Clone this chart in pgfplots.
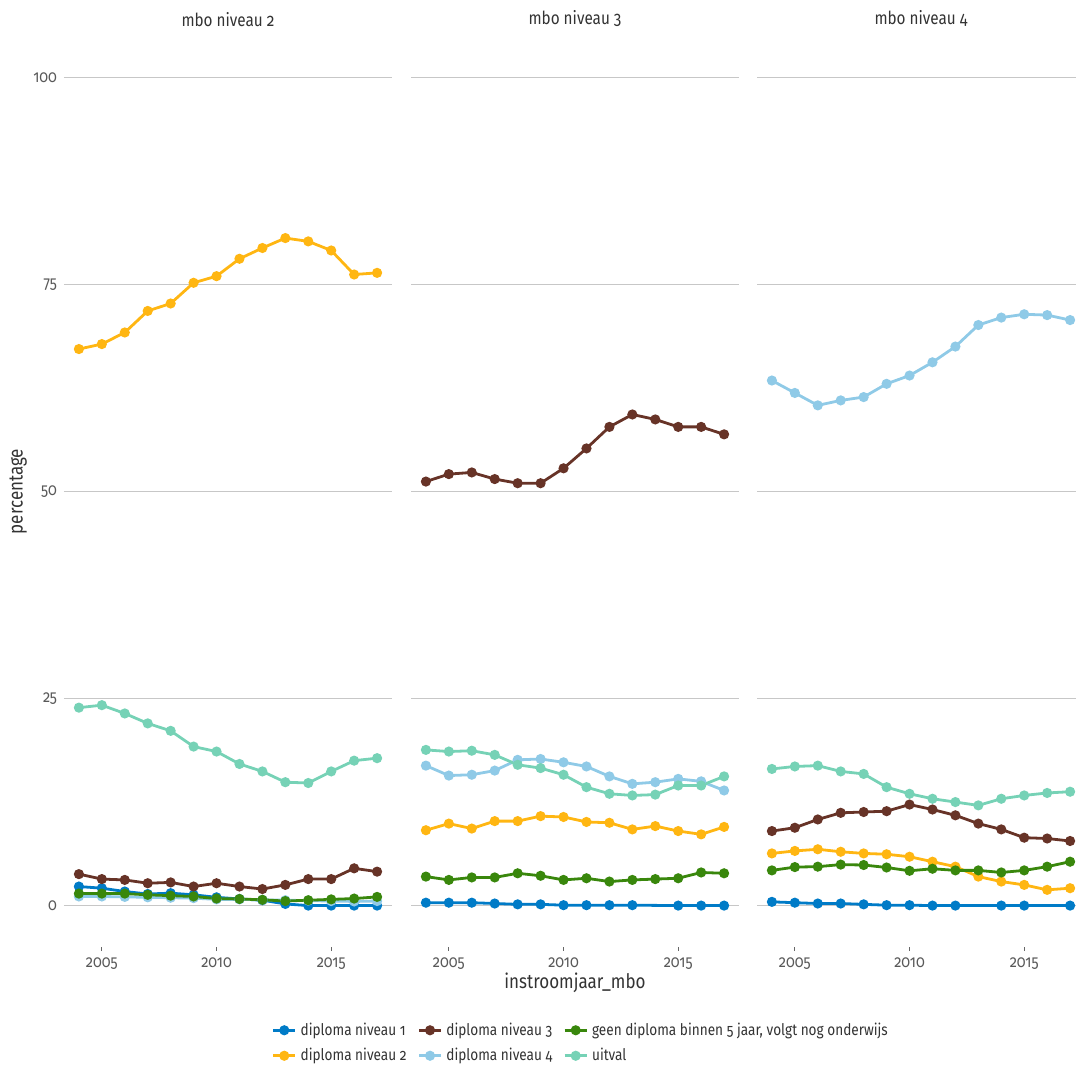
\documentclass[border=0pt]{standalone}
\usepackage{pgfplots}
\pgfplotsset{compat=1.18}
\usepackage{pgfplotstable}
\usepackage{fontspec}
\setmainfont{Fira Sans}[Numbers=OldStyle, FakeStretch=0.85]

\definecolor{cn1}{HTML}{007BC7}
\definecolor{cn2}{HTML}{FFB612}
\definecolor{cn3}{HTML}{673327}
\definecolor{cn4}{HTML}{8FCAE7}
\definecolor{cgeen}{HTML}{39870C}
\definecolor{cuit}{HTML}{76D2B6}

% year n1 n2 n3 n4 geen uitval
\pgfplotstableread{
year n1 n2 n3 n4 geen uitval
2004 2.3 67.2 3.8 1.1 1.45 23.9
2005 2.1 67.8 3.2 1.1 1.45 24.2
2006 1.7 69.2 3.1 1.05 1.45 23.2
2007 1.4 71.8 2.7 1.0 1.3 22.0
2008 1.5 72.7 2.8 0.95 1.2 21.1
2009 1.3 75.2 2.3 0.9 1.1 19.2
2010 1.0 76.0 2.7 0.75 0.85 18.6
2011 0.8 78.1 2.3 0.75 0.8 17.1
2012 0.65 79.4 2.0 0.7 0.7 16.2
2013 0.2 80.6 2.5 0.65 0.55 14.9
2014 0.0 80.2 3.2 0.6 0.65 14.8
2015 0.0 79.1 3.2 0.55 0.75 16.2
2016 0.0 76.2 4.5 0.5 0.85 17.5
2017 0.0 76.4 4.1 0.55 1.05 17.8
}\tniv

\pgfplotstableread{
year n1 n2 n3 n4 geen uitval
2004 0.35 9.1 51.2 16.9 3.5 18.8
2005 0.35 9.9 52.1 15.7 3.1 18.6
2006 0.35 9.3 52.3 15.8 3.4 18.7
2007 0.25 10.2 51.5 16.3 3.4 18.2
2008 0.15 10.2 51.0 17.6 3.9 17.0
2009 0.15 10.8 51.0 17.7 3.6 16.6
2010 0.05 10.7 52.8 17.3 3.1 15.8
2011 0.05 10.1 55.2 16.8 3.3 14.3
2012 0.05 10.0 57.8 15.6 2.9 13.5
2013 0.05 9.2 59.3 14.7 3.1 13.3
2014 nan 9.6 58.7 14.9 3.2 13.4
2015 0.0 9.0 57.8 15.3 3.3 14.5
2016 0.0 8.6 57.8 15.0 4.0 14.5
2017 0.0 9.5 56.9 13.9 3.9 15.6
}\tnivdrie

\pgfplotstableread{
year n1 n2 n3 n4 geen uitval
2004 0.45 6.3 9.0 63.4 4.25 16.5
2005 0.35 6.6 9.4 61.9 4.65 16.8
2006 0.25 6.8 10.4 60.4 4.7 16.9
2007 0.25 6.5 11.2 61.0 4.95 16.2
2008 0.15 6.3 11.3 61.4 4.9 15.9
2009 0.05 6.2 11.4 63.0 4.6 14.3
2010 0.05 5.9 12.2 64.0 4.2 13.5
2011 0.0 5.3 11.6 65.6 4.45 12.9
2012 0.0 4.7 10.9 67.5 4.25 12.5
2013 nan 3.5 9.9 70.1 4.25 12.1
2014 0.0 2.9 9.2 71.0 4.0 12.9
2015 0.0 2.5 8.2 71.4 4.25 13.3
2016 nan 1.9 8.1 71.3 4.7 13.6
2017 0.0 2.1 7.8 70.7 5.3 13.75
}\tnivvier

\pgfplotsset{
  facet/.style={
    scale only axis, width=164pt, height=455.5pt,
    xmin=2003.35, xmax=2017.65, ymin=-5, ymax=105,
    axis line style={draw=none},
    xtick={2005,2010,2015}, ytick={0,25,50,75,100},
    tick pos=left,
    ymajorgrids, grid style={black!22, line width=0.6pt},
    xtick align=outside, major tick length=2pt,
    xtick style={black!60, line width=0.5pt},
    ytick style={draw=none},
    /pgf/number format/assume math mode=true,
    /pgf/number format/1000 sep={},
    tick label style={font=\fontsize{8.5}{10}\selectfont, text=black!65},
    title style={font=\fontsize{9}{11}\selectfont, text=black!80, yshift=-5pt},
    every axis plot/.append style={line width=1.4pt, mark=*, mark size=1.8pt, forget plot},
    clip=false,
  },
}

\newcommand{\facetplots}[1]{%
  \addplot[cn1] table[x=year, y=n1] {#1};
  \addplot[cn2] table[x=year, y=n2] {#1};
  \addplot[cn3] table[x=year, y=n3] {#1};
  \addplot[cn4] table[x=year, y=n4] {#1};
  \addplot[cgeen] table[x=year, y=geen] {#1};
  \addplot[cuit] table[x=year, y=uitval] {#1};
}

\begin{document}
\begin{tikzpicture}
\path[use as bounding box] (0,0) rectangle (538pt,533pt);

\begin{axis}[facet, at={(32pt,59.5pt)}, title={mbo niveau 2},
  ylabel={percentage},
  every axis y label/.style={at={(axis description cs:-0.14,0.5)}, anchor=center, rotate=90,
    font=\fontsize{10}{12}\selectfont, text=black!80}]
  \facetplots{\tniv}
\end{axis}

\begin{axis}[facet, at={(205.5pt,59.5pt)}, title={mbo niveau 3}, yticklabels={},
  xlabel={instroomjaar\_mbo},
  every axis x label/.style={at={(axis description cs:0.5,-0.0395)}, anchor=center,
    font=\fontsize{10}{12}\selectfont, text=black!80}]
  \facetplots{\tnivdrie}
\end{axis}

\begin{axis}[facet, at={(378.5pt,59.5pt)}, title={mbo niveau 4}, yticklabels={},
  legend columns=3,
  legend cell align=left,
  legend style={at={(axis description cs:-0.534,-0.1054)}, anchor=center, draw=none, fill=none,
    font=\fontsize{8}{9.5}\selectfont, text=black!80,
    /tikz/every even column/.append style={column sep=3.5pt}, row sep=1pt},
  legend image code/.code={\draw[#1, mark repeat=2, mark phase=2] plot coordinates {(0pt,0pt) (5.5pt,0pt) (11pt,0pt)};}]
  \facetplots{\tnivvier}
  \addlegendimage{cn1, line width=1.4pt, mark=*, mark size=1.8pt}
  \addlegendentry{diploma niveau 1}
  \addlegendimage{cn3, line width=1.4pt, mark=*, mark size=1.8pt}
  \addlegendentry{diploma niveau 3}
  \addlegendimage{cgeen, line width=1.4pt, mark=*, mark size=1.8pt}
  \addlegendentry{geen diploma binnen 5 jaar, volgt nog onderwijs}
  \addlegendimage{cn2, line width=1.4pt, mark=*, mark size=1.8pt}
  \addlegendentry{diploma niveau 2}
  \addlegendimage{cn4, line width=1.4pt, mark=*, mark size=1.8pt}
  \addlegendentry{diploma niveau 4}
  \addlegendimage{cuit, line width=1.4pt, mark=*, mark size=1.8pt}
  \addlegendentry{uitval}
\end{axis}
\end{tikzpicture}
\end{document}
